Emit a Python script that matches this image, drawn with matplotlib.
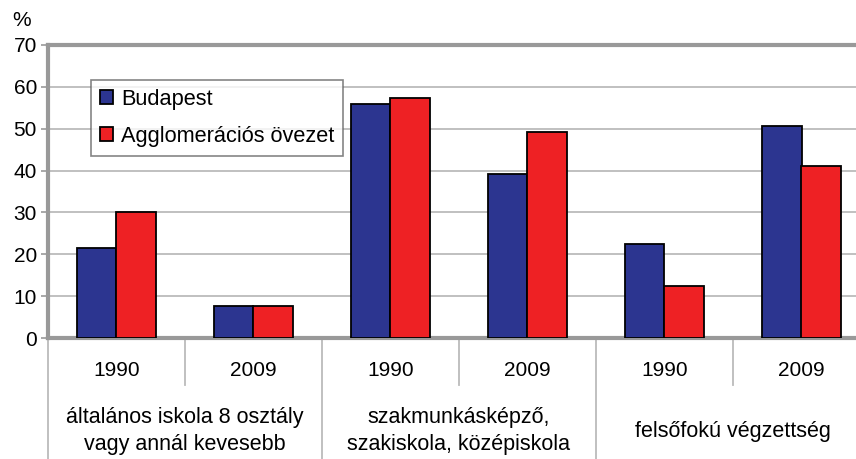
import matplotlib.pyplot as plt
import numpy as np

plt.rcParams['font.family'] = ['Liberation Sans', 'DejaVu Sans']

# adatok
evek = ['1990', '2009', '1990', '2009', '1990', '2009']
csoportok = ['általános iskola 8 osztály\nvagy annál kevesebb',
             'szakmunkásképző,\nszakiskola, középiskola',
             'felsőfokú végzettség']
budapest = [21.5, 7.6, 56.0, 39.2, 22.4, 50.7]
agglomeracio = [30.1, 7.6, 57.4, 49.3, 12.4, 41.1]

W, H = 856, 459
fig = plt.figure(figsize=(W / 100, H / 100), dpi=100)
ax = fig.add_axes([48 / W, 1 - 338 / H, (870 - 48) / W, (338 - 45) / H])

x = np.arange(len(evek))
w = 0.29
ax.bar(x - w / 2, budapest, w, color='#2C3590', edgecolor='black',
       linewidth=1.3, label='Budapest', zorder=3)
ax.bar(x + w / 2, agglomeracio, w, color='#EE2124', edgecolor='black',
       linewidth=1.3, label='Agglomerációs övezet', zorder=3)

ax.set_xlim(-0.5, 5.5)
ax.set_ylim(0, 70)
ax.set_yticks(range(0, 71, 10))
ax.tick_params(axis='y', labelsize=15, length=5, color='#999999', width=1.2, pad=3)
ax.set_xticks([])
ax.grid(axis='y', color='#BBBBBB', linewidth=1.3, zorder=0)
for s in ['top', 'left', 'bottom']:
    ax.spines[s].set_color('#999999')
    ax.spines[s].set_linewidth(3)
ax.spines['right'].set_visible(False)

fig.text(22 / W, 1 - 21 / H, '%', fontsize=15, ha='center', va='center')

# évek és elválasztók a tengely alatt
ah = 338 - 45
for i, ev in enumerate(evek):
    ax.text(i, -32 / ah, ev, transform=ax.get_xaxis_transform(),
            ha='center', va='center', fontsize=15)
for i in range(len(evek)):
    b = i - 0.5
    alja = -(H - 338) / ah if i % 2 == 0 else -47 / ah
    ax.plot([b, b], [0, alja], transform=ax.get_xaxis_transform(),
            color='#BBBBBB', linewidth=1.3, clip_on=False)
for j, cs in enumerate(csoportok):
    ax.text(2 * j + 0.5, -93 / ah, cs, transform=ax.get_xaxis_transform(),
            ha='center', va='center', fontsize=15.5, linespacing=1.42)

leg = ax.legend(loc='upper left', bbox_to_anchor=((91 - 48) / 822, (338 - 80) / ah),
                fontsize=15.7, frameon=True, fancybox=False, edgecolor='#666666',
                handlelength=0.6, handleheight=0.6, handletextpad=0.37,
                labelspacing=0.74, borderpad=0.4, borderaxespad=0)
leg.get_frame().set_linewidth(1.2)

fig.savefig('out.png', dpi=100)
